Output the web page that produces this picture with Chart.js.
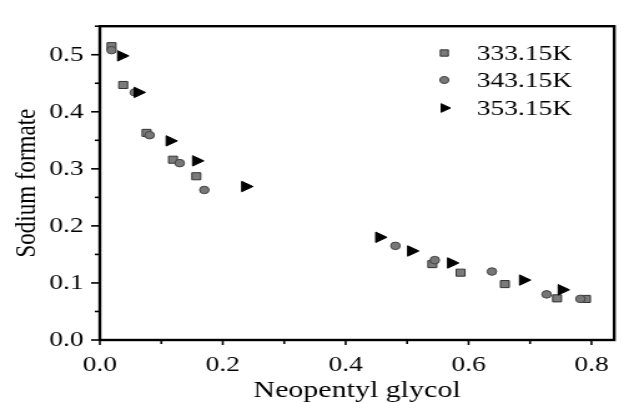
<!DOCTYPE html>
<html>
<head>
<meta charset="utf-8">
<script src="https://cdn.jsdelivr.net/npm/chart.js@4/dist/chart.umd.min.js"></script>
<style>
  html, body { margin: 0; padding: 0; background: #ffffff; }
  #chart { display: block; width: 624px; height: 403px; }
</style>
</head>
<body>
<!-- the reference is stretched sideways, so draw narrow and stretch with css -->
<canvas id="chart" width="500" height="403" style="width:624px;height:403px"></canvas>
<script>
// Datos
const labels = ['333.15K', '343.15K', '353.15K'];

const x333 = [0.019, 0.038, 0.076, 0.119, 0.157, 0.541, 0.587, 0.659, 0.744, 0.791];
const y333 = [0.515, 0.447, 0.363, 0.316, 0.287, 0.133, 0.118, 0.098, 0.073, 0.072];

const x343 = [0.019, 0.057, 0.081, 0.130, 0.170, 0.481, 0.545, 0.638, 0.727, 0.782];
const y343 = [0.508, 0.434, 0.359, 0.310, 0.263, 0.165, 0.140, 0.120, 0.080, 0.072];

const x353 = [0.035, 0.062, 0.114, 0.157, 0.237, 0.455, 0.507, 0.572, 0.689, 0.752];
const y353 = [0.498, 0.434, 0.349, 0.314, 0.269, 0.180, 0.156, 0.135, 0.105, 0.088];

const xTitle = 'Neopentyl glycol';
const yTitle = 'Sodium formate';

const SERIF = "'Liberation Serif', 'DejaVu Serif', serif";

function toPoints(xs, ys) {
    return xs.map((x, i) => ({ x: x, y: ys[i] }));
}

// Marco del area y marcas de ejes (mayores y menores)
const framePlugin = {
    id: 'frame',
    afterDraw(chart) {
        const ctx = chart.ctx;
        const a = chart.chartArea;
        ctx.save();
        ctx.strokeStyle = '#000000';
        ctx.lineWidth = 1.6;

        const ys = chart.scales.y;
        ys.ticks.forEach((t, i) => {
            const py = ys.getPixelForValue(t.value);
            const len = i % 2 === 0 ? 7 : 4;
            ctx.beginPath();
            ctx.moveTo(a.left, py);
            ctx.lineTo(a.left - len, py);
            ctx.stroke();
        });

        const xs = chart.scales.x;
        xs.ticks.forEach((t, i) => {
            const px = xs.getPixelForValue(t.value);
            const len = i % 2 === 0 ? 5 : 4;
            ctx.beginPath();
            ctx.moveTo(px, a.bottom);
            ctx.lineTo(px, a.bottom + len);
            ctx.stroke();
        });

        ctx.lineWidth = 2.4;
        ctx.strokeRect(a.left, a.top, a.right - a.left, a.bottom - a.top);
        ctx.restore();
    }
};

// Leyenda dentro del grafico
const legendPlugin = {
    id: 'insideLegend',
    afterDraw(chart) {
        const ctx = chart.ctx;
        const mx = 356;
        const tx = 382;
        const rows = [53, 80, 108];
        ctx.save();
        chart.data.datasets.forEach((ds, i) => {
            const y = rows[i];
            ctx.fillStyle = ds.backgroundColor;
            ctx.strokeStyle = ds.borderColor;
            Chart.helpers.drawPoint(ctx, {
                pointStyle: ds.pointStyle,
                radius: ds.legendRadius,
                rotation: ds.rotation || 0,
                borderWidth: ds.borderWidth
            }, mx, y);
            ctx.fillStyle = '#000000';
            ctx.font = '22px ' + SERIF;
            ctx.textBaseline = 'middle';
            ctx.textAlign = 'left';
            ctx.fillText(ds.label, tx, y + 1);
        });
        ctx.restore();
    }
};

new Chart(document.getElementById('chart'), {
    type: 'scatter',
    data: {
        datasets: [
            {
                label: labels[0],
                data: toPoints(x333, y333),
                pointStyle: 'rect',
                pointRadius: 5,
                legendRadius: 4.5,
                backgroundColor: '#7b7b7b',
                borderColor: '#333333',
                borderWidth: 1,
                order: 2
            },
            {
                label: labels[1],
                data: toPoints(x343, y343),
                pointStyle: 'circle',
                pointRadius: 3.8,
                legendRadius: 3.6,
                backgroundColor: '#777777',
                borderColor: '#444444',
                borderWidth: 1,
                order: 1
            },
            {
                label: labels[2],
                data: toPoints(x353, y353),
                pointStyle: 'triangle',
                pointRotation: 90,
                rotation: 90,
                pointRadius: 6,
                legendRadius: 5,
                backgroundColor: '#000000',
                borderColor: '#000000',
                borderWidth: 1,
                order: 0
            }
        ]
    },
    options: {
        responsive: false,
        animation: false,
        layout: {
            padding: { left: 0, right: 7, top: 15, bottom: 0 }
        },
        plugins: {
            legend: { display: false },
            tooltip: { enabled: false }
        },
        scales: {
            x: {
                type: 'linear',
                min: 0,
                max: 0.837,
                afterFit(scale) { scale.height = 63; },
                grid: { display: false, drawTicks: false },
                border: { display: false },
                ticks: {
                    stepSize: 0.1,
                    includeBounds: false,
                    autoSkip: false,
                    maxRotation: 0,
                    padding: 12,
                    color: '#000000',
                    font: { family: SERIF, size: 22 },
                    callback: (v, i) => i % 2 === 0 ? v.toFixed(1) : ''
                },
                title: {
                    display: true,
                    text: xTitle,
                    color: '#000000',
                    font: { family: SERIF, size: 24 },
                    padding: { top: 0, bottom: -2 }
                }
            },
            y: {
                type: 'linear',
                min: 0,
                max: 0.55,
                afterFit(scale) { scale.width = 80; },
                grid: { display: false, drawTicks: false },
                border: { display: false },
                ticks: {
                    stepSize: 0.05,
                    includeBounds: false,
                    autoSkip: false,
                    padding: 13,
                    color: '#000000',
                    font: { family: SERIF, size: 22 },
                    callback: (v, i) => i % 2 === 0 ? v.toFixed(1) : ''
                },
                title: {
                    display: true,
                    text: yTitle,
                    color: '#000000',
                    font: { family: SERIF, size: 23 },
                    padding: { top: 8, bottom: 0 }
                }
            }
        }
    },
    plugins: [framePlugin, legendPlugin]
});
</script>
</body>
</html>
